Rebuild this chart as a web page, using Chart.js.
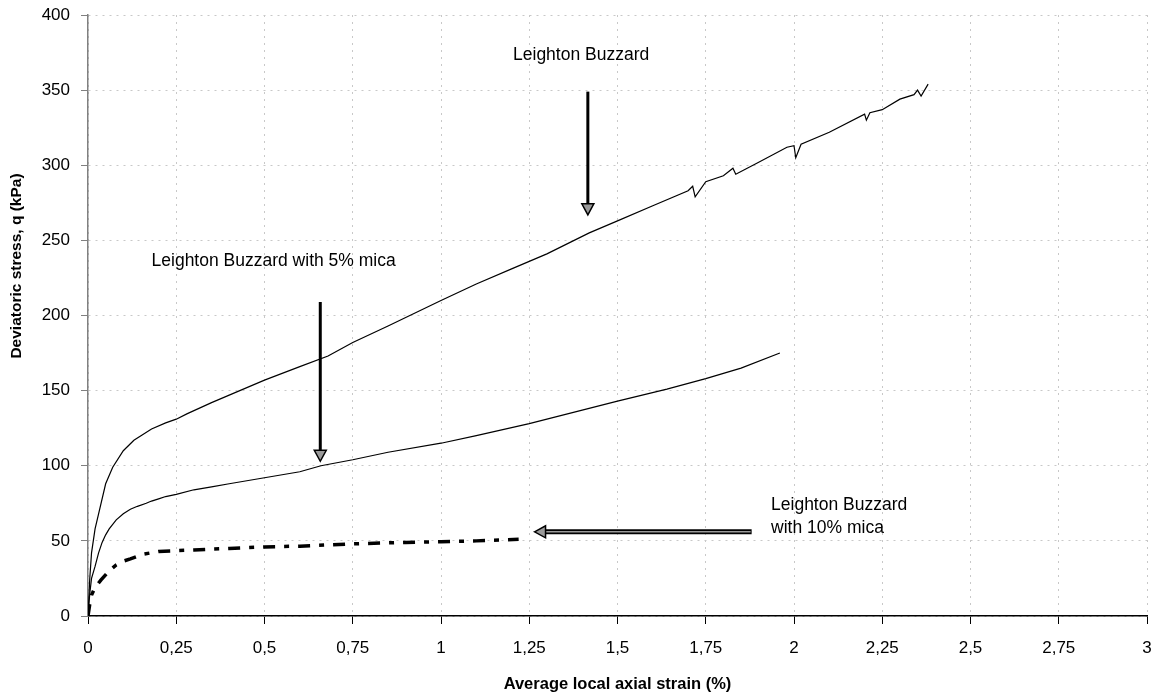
<!DOCTYPE html>
<html>
<head>
<meta charset="utf-8">
<script src="https://cdn.jsdelivr.net/npm/chart.js@4.4.1/dist/chart.umd.min.js"></script>
<style>
  html, body { margin: 0; padding: 0; background: #fff; }
  #wrap { width: 1159px; height: 700px; }
</style>
</head>
<body>
<div id="wrap"><canvas id="strainChart" width="1159" height="700"></canvas></div>
<script>
// Valeurs : déformation axiale (%) et q (kPa)
const lbStrain = [0, 0.005, 0.01, 0.02, 0.03, 0.05, 0.07, 0.1, 0.13, 0.15, 0.18, 0.22, 0.25, 0.28, 0.35, 0.4, 0.5, 0.6, 0.68, 0.75, 0.85, 1.0, 1.1, 1.2, 1.25, 1.3, 1.42, 1.5, 1.6, 1.7, 1.713, 1.72, 1.75, 1.8, 1.827, 1.835, 1.9, 1.98, 2.0, 2.005, 2.02, 2.1, 2.2, 2.205, 2.215, 2.25, 2.3, 2.34, 2.35, 2.36, 2.38];
const lbStress = [0, 25, 42, 58, 68, 88, 99, 110, 117, 120, 124.5, 128.5, 131, 134.5, 142, 147, 157, 166, 173, 182, 193, 210, 221, 231, 236, 241, 255, 263, 273, 283, 286, 279, 289, 293, 298, 294, 302, 312, 313, 305, 314, 322, 334, 330, 335, 337, 344, 347, 350, 346, 354];

const mica5Strain = [0, 0.005, 0.01, 0.02, 0.03, 0.04, 0.05, 0.06, 0.07, 0.08, 0.1, 0.12, 0.14, 0.165, 0.18, 0.2, 0.22, 0.25, 0.3, 0.35, 0.4, 0.5, 0.6, 0.66, 0.75, 0.85, 1.0, 1.1, 1.25, 1.4, 1.5, 1.64, 1.75, 1.85, 1.96];
const mica5Stress = [0, 15, 25, 33, 42, 49, 54, 58, 61, 64, 68, 71, 73, 75, 76.5, 78, 79.5, 81, 84, 86, 88, 92, 96, 100, 104, 109, 115, 120, 128, 137, 143, 151, 158, 165, 175];

const mica10Strain = [0, 0.005, 0.01, 0.02, 0.037, 0.06, 0.08, 0.1, 0.12, 0.155, 0.2, 0.3, 0.4, 0.5, 0.6, 0.75, 0.9, 1.0, 1.1, 1.22];
const mica10Stress = [0, 8, 14, 19, 24, 30, 34, 36.5, 38, 41, 43, 44, 45, 46, 46.5, 48, 49, 49.5, 50, 51];

const xTicks = [0, 0.25, 0.5, 0.75, 1, 1.25, 1.5, 1.75, 2, 2.25, 2.5, 2.75, 3];
const yTicks = [0, 50, 100, 150, 200, 250, 300, 350, 400];

const FONT = '"Liberation Sans", Arial, sans-serif';

function toPoints(xs, ys) {
  return xs.map((x, i) => ({ x: x, y: ys[i] }));
}

// flèche avec pointe creuse grise
function drawArrow(ctx, x1, y1, x2, y2, doubleShaft) {
  const ang = Math.atan2(y2 - y1, x2 - x1);
  const headLen = 11, headW = 6;
  const bx = x2 - headLen * Math.cos(ang), by = y2 - headLen * Math.sin(ang);
  ctx.save();
  ctx.lineCap = 'butt';
  ctx.strokeStyle = '#000';
  ctx.lineWidth = doubleShaft ? 5 : 3;
  ctx.beginPath(); ctx.moveTo(x1, y1); ctx.lineTo(bx, by); ctx.stroke();
  if (doubleShaft) {
    ctx.strokeStyle = '#9a9a9a';
    ctx.lineWidth = 1.5;
    ctx.beginPath(); ctx.moveTo(x1 - 1, y1); ctx.lineTo(bx, by); ctx.stroke();
  }
  const px = -Math.sin(ang), py = Math.cos(ang);
  ctx.beginPath();
  ctx.moveTo(x2, y2);
  ctx.lineTo(bx + px * headW, by + py * headW);
  ctx.lineTo(bx - px * headW, by - py * headW);
  ctx.closePath();
  ctx.fillStyle = '#9a9a9a';
  ctx.fill();
  ctx.strokeStyle = '#000';
  ctx.lineWidth = 1.5;
  ctx.stroke();
  ctx.restore();
}

const annotations = {
  id: 'annotations',
  afterDatasetsDraw(chart) {
    const { ctx, scales: { x, y } } = chart;
    ctx.save();
    ctx.fillStyle = '#000';
    ctx.font = '17.5px ' + FONT;
    ctx.textBaseline = 'middle';

    ctx.textAlign = 'center';
    ctx.fillText('Leighton Buzzard', x.getPixelForValue(1.397), y.getPixelForValue(373));
    drawArrow(ctx, x.getPixelForValue(1.416), y.getPixelForValue(349),
      x.getPixelForValue(1.416), y.getPixelForValue(267), false);

    ctx.textAlign = 'left';
    ctx.fillText('Leighton Buzzard with 5% mica', x.getPixelForValue(0.18), y.getPixelForValue(236));
    drawArrow(ctx, x.getPixelForValue(0.658), y.getPixelForValue(209),
      x.getPixelForValue(0.658), y.getPixelForValue(103), false);

    ctx.fillText('Leighton Buzzard', x.getPixelForValue(1.935), y.getPixelForValue(74));
    ctx.fillText('with 10% mica', x.getPixelForValue(1.935), y.getPixelForValue(58.5));
    drawArrow(ctx, x.getPixelForValue(1.88), y.getPixelForValue(56),
      x.getPixelForValue(1.265), y.getPixelForValue(56), true);

    // titre de l'axe Y
    ctx.save();
    ctx.translate(17, 266);
    ctx.rotate(-Math.PI / 2);
    ctx.textAlign = 'center';
    ctx.font = 'bold 15.5px ' + FONT;
    ctx.fillText('Deviatoric stress, q (kPa)', 0, 0);
    ctx.restore();

    ctx.restore();
  }
};

const ctx = document.getElementById('strainChart').getContext('2d');

new Chart(ctx, {
  type: 'scatter',
  data: {
    datasets: [
      {
        label: 'Leighton Buzzard',
        data: toPoints(lbStrain, lbStress),
        showLine: true,
        borderColor: '#000',
        borderWidth: 1.2,
        pointRadius: 0,
        tension: 0
      },
      {
        label: 'Leighton Buzzard with 5% mica',
        data: toPoints(mica5Strain, mica5Stress),
        showLine: true,
        borderColor: '#000',
        borderWidth: 1.2,
        pointRadius: 0,
        tension: 0
      },
      {
        label: 'Leighton Buzzard with 10% mica',
        data: toPoints(mica10Strain, mica10Stress),
        showLine: true,
        borderColor: '#000',
        borderWidth: 3.5,
        borderDash: [12, 9, 5, 9],
        pointRadius: 0,
        tension: 0
      }
    ]
  },
  options: {
    responsive: false,
    animation: false,
    layout: { padding: { top: 15, right: 12, left: 0, bottom: 0 } },
    plugins: {
      legend: { display: false },
      tooltip: { enabled: false }
    },
    scales: {
      x: {
        type: 'linear',
        min: 0,
        max: 3,
        afterBuildTicks: (scale) => { scale.ticks = xTicks.map(v => ({ value: v })); },
        afterFit: (scale) => {
          scale.height = 84;
          scale.paddingLeft = 0;
          scale.paddingRight = 0;
        },
        ticks: {
          color: '#000',
          font: { family: FONT, size: 17 },
          padding: 14,
          maxRotation: 0,
          callback: (v) => String(v).replace('.', ',')
        },
        grid: {
          color: '#c8c8c8',
          tickColor: '#000',
          tickLength: 8,
          tickBorderDash: [],
          lineWidth: 1
        },
        border: { color: '#000', width: 1.5, dash: [2, 5] },
        title: {
          display: true,
          text: 'Average local axial strain (%)',
          color: '#000',
          font: { family: FONT, size: 16.5, weight: 'bold' },
          padding: { top: 0, bottom: 6 }
        }
      },
      y: {
        type: 'linear',
        min: 0,
        max: 400,
        afterBuildTicks: (scale) => { scale.ticks = yTicks.map(v => ({ value: v })); },
        afterFit: (scale) => {
          scale.width = 88;
          scale.paddingTop = 0;
          scale.paddingBottom = 0;
        },
        ticks: {
          color: '#000',
          font: { family: FONT, size: 17 },
          padding: 11
        },
        grid: {
          color: '#c8c8c8',
          tickColor: '#808080',
          tickLength: 7,
          tickBorderDash: [],
          lineWidth: 1
        },
        border: { color: '#808080', width: 1.5, dash: [2, 5] }
      }
    }
  },
  plugins: [annotations]
});
</script>
</body>
</html>
